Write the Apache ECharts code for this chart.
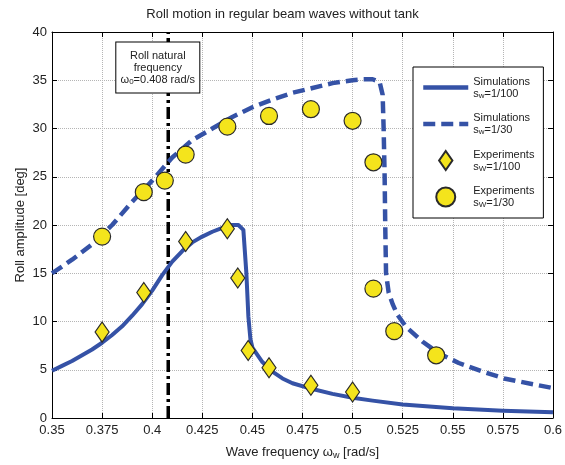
<!DOCTYPE html>
<html>
<head>
<meta charset="utf-8">
<script src="https://cdn.jsdelivr.net/npm/echarts@6/dist/echarts.min.js"></script>
<style>
  html, body { margin: 0; padding: 0; background: #fff; }
  #chart { width: 565px; height: 465px; }
</style>
</head>
<body>
<div id="chart"></div>
<script>
// Simulated roll amplitude, wave steepness 1/100
const simFreq100 = [0.35, 0.355, 0.36, 0.365, 0.37, 0.375, 0.38, 0.385, 0.39, 0.395, 0.40, 0.405, 0.41, 0.415, 0.42, 0.425, 0.43, 0.435, 0.44, 0.443, 0.4455, 0.447, 0.448, 0.449, 0.45, 0.455, 0.46, 0.465, 0.47, 0.48, 0.49, 0.50, 0.51, 0.525, 0.55, 0.575, 0.60];
const simRoll100 = [4.9, 5.4, 5.9, 6.5, 7.1, 7.8, 8.6, 9.5, 10.6, 11.8, 13.2, 14.8, 16.2, 17.3, 18.2, 18.8, 19.3, 19.7, 20.0, 20.0, 19.5, 15.0, 10.5, 8.2, 7.3, 5.8, 4.8, 4.1, 3.6, 3.0, 2.5, 2.1, 1.8, 1.4, 1.0, 0.75, 0.6];

// Simulated roll amplitude, wave steepness 1/30
const simFreq30 = [0.35, 0.36, 0.37, 0.375, 0.38, 0.39, 0.40, 0.41, 0.42, 0.43, 0.44, 0.45, 0.46, 0.47, 0.48, 0.49, 0.50, 0.505, 0.51, 0.5135, 0.515, 0.5155, 0.516, 0.5163, 0.5167, 0.518, 0.52, 0.5224, 0.5266, 0.535, 0.543, 0.553, 0.565, 0.5756, 0.59, 0.60];
const simRoll30 = [15.0, 16.4, 18.0, 19.0, 20.0, 22.4, 24.6, 27.0, 28.8, 30.0, 31.2, 32.2, 33.0, 33.7, 34.2, 34.7, 35.0, 35.1, 35.1, 34.8, 33.5, 30.0, 25.0, 20.0, 15.0, 13.0, 11.8, 10.7, 9.46, 7.9, 6.7, 5.7, 4.8, 4.1, 3.5, 3.1];

// Measured roll amplitude, steepness 1/100 (diamonds)
const expFreq100 = [0.375, 0.3958, 0.4167, 0.4375, 0.4427, 0.4479, 0.4583, 0.4792, 0.5];
const expRoll100 = [8.9, 13.0, 18.3, 19.6, 14.5, 7.0, 5.2, 3.4, 2.7];

// Measured roll amplitude, steepness 1/30 (circles)
const expFreq30 = [0.375, 0.3958, 0.4063, 0.4167, 0.4375, 0.4583, 0.4792, 0.5, 0.5104, 0.5104, 0.5208, 0.5417];
const expRoll30 = [18.8, 23.4, 24.6, 27.3, 30.2, 31.3, 32.0, 30.8, 26.5, 13.4, 9.0, 6.5];

// Roll natural frequency marker
const naturalFreq = 0.408;

// Axis tick labels
const xTickLabels = ['0.35', '0.375', '0.4', '0.425', '0.45', '0.475', '0.5', '0.525', '0.55', '0.575', '0.6'];
const yTickLabels = ['0', '5', '10', '15', '20', '25', '30', '35', '40'];

const FONT = '"Liberation Sans", Arial, Helvetica, sans-serif';
const BLUE = '#3552a6';
const YELLOW = '#f4e41c';

const zip = (xs, ys) => xs.map((x, i) => [x, ys[i]]);

const legendText = {
  sim100: '{t|Simulations}\n{t|s}{s|w}{t|=1/100}',
  sim30: '{t|Simulations}\n{t|s}{s|w}{t|=1/30}',
  exp100: '{t|Experiments}\n{t|s}{s|W}{t|=1/100}',
  exp30: '{t|Experiments}\n{t|s}{s|W}{t|=1/30}'
};

const chart = echarts.init(document.getElementById('chart'), null, { renderer: 'canvas' });

const gridLine = { show: true, lineStyle: { color: '#b5b5b5', width: 1, type: 'dotted' } };
const frameLine = { show: true, onZero: false, lineStyle: { color: '#000', width: 1 } };

chart.setOption({
  animation: false,
  backgroundColor: '#fff',
  textStyle: { fontFamily: FONT },
  title: {
    text: 'Roll motion in regular beam waves without tank',
    left: 'center',
    top: 3,
    textStyle: { fontFamily: FONT, fontSize: 13, fontWeight: 'normal', color: '#222' }
  },
  grid: { left: 52, right: 11, top: 32, bottom: 47, containLabel: false },
  xAxis: [
    {
      type: 'value', min: 0.35, max: 0.6, interval: 0.025,
      axisLine: frameLine,
      axisTick: { show: true, inside: true, length: 5, lineStyle: { color: '#000' } },
      splitLine: gridLine,
      axisLabel: {
        fontFamily: FONT, fontSize: 13, color: '#222', margin: 6,
        formatter: v => xTickLabels[Math.round((v - 0.35) / 0.025)]
      },
      name: 'Wave frequency ω{sub|w} [rad/s]',
      nameLocation: 'middle', nameGap: 27,
      nameTextStyle: {
        fontFamily: FONT, fontSize: 13, color: '#222',
        rich: { sub: { fontFamily: FONT, fontSize: 9, verticalAlign: 'bottom', padding: [6, 0, 0, 0], color: '#222' } }
      }
    },
    {
      type: 'value', min: 0.35, max: 0.6, interval: 0.025, position: 'top',
      axisLine: frameLine,
      axisTick: { show: true, inside: true, length: 5, lineStyle: { color: '#000' } },
      axisLabel: { show: false }, splitLine: { show: false }
    }
  ],
  yAxis: [
    {
      type: 'value', min: 0, max: 40, interval: 5,
      axisLine: frameLine,
      axisTick: { show: true, inside: true, length: 5, lineStyle: { color: '#000' } },
      splitLine: gridLine,
      axisLabel: {
        fontFamily: FONT, fontSize: 13, color: '#222', margin: 5,
        formatter: v => yTickLabels[Math.round(v / 5)]
      },
      name: 'Roll amplitude [deg]',
      nameLocation: 'middle', nameGap: 25, nameMoveOverlap: false,
      nameTextStyle: { fontFamily: FONT, fontSize: 13, color: '#222' }
    },
    {
      type: 'value', min: 0, max: 40, interval: 5, position: 'right',
      axisLine: frameLine,
      axisTick: { show: true, inside: true, length: 5, lineStyle: { color: '#000' } },
      axisLabel: { show: false }, splitLine: { show: false }
    }
  ],
  legend: {
    orient: 'vertical',
    left: 413, top: 67,
    padding: [9, 9, 9, 8],
    itemGap: 13,
    itemWidth: 45,
    itemHeight: 19,
    backgroundColor: '#fff',
    borderColor: '#000',
    borderWidth: 1,
    borderRadius: 0,
    selectedMode: false,
    data: [
      { name: 'sim100', itemStyle: { opacity: 0 }, lineStyle: { width: 4.5 } },
      { name: 'sim30', itemStyle: { opacity: 0 }, lineStyle: { width: 4.5, type: [12, 6] } },
      { name: 'exp100', icon: 'path://M0,-10L7,0L0,10L-7,0Z' },
      { name: 'exp30', icon: 'circle' }
    ],
    formatter: name => legendText[name],
    textStyle: {
      fontFamily: FONT, color: '#222',
      rich: {
        t: { fontFamily: FONT, fontSize: 11, lineHeight: 12, color: '#222' },
        s: { fontFamily: FONT, fontSize: 8, lineHeight: 12, verticalAlign: 'bottom', padding: [4, 0, 0, 0], color: '#222' }
      }
    }
  },
  series: [
    {
      name: 'natural', type: 'line', data: [[naturalFreq, 0], [naturalFreq, 40]],
      symbol: 'none', silent: true, z: 1,
      lineStyle: { color: '#000', width: 3.5, type: [12, 4, 3, 4], cap: 'butt' }
    },
    {
      name: 'sim100', type: 'line', data: zip(simFreq100, simRoll100),
      symbol: 'none', z: 2,
      lineStyle: { color: BLUE, width: 4, join: 'round' }, itemStyle: { color: BLUE }
    },
    {
      name: 'sim30', type: 'line', data: zip(simFreq30, simRoll30),
      symbol: 'none', z: 2,
      lineStyle: { color: BLUE, width: 4.5, type: [12, 6], cap: 'butt' }, itemStyle: { color: BLUE }
    },
    {
      name: 'exp100', type: 'scatter', data: zip(expFreq100, expRoll100),
      symbol: 'diamond', symbolSize: [14, 20], z: 3,
      itemStyle: { color: YELLOW, borderColor: '#2a2a2a', borderWidth: 1.2, opacity: 1 }
    },
    {
      name: 'exp30', type: 'scatter', data: zip(expFreq30, expRoll30),
      symbol: 'circle', symbolSize: 17, z: 3,
      itemStyle: { color: YELLOW, borderColor: '#2a2a2a', borderWidth: 1.2, opacity: 1 }
    }
  ]
});

// Annotation box for the roll natural frequency, anchored in data coordinates
const boxAnchor = chart.convertToPixel({ gridIndex: 0 }, [0.4028, 38.9]);
chart.setOption({
  graphic: [{
    type: 'text',
    x: boxAnchor[0],
    y: boxAnchor[1],
    z: 10,
    style: {
      text: '{t|Roll natural}\n{t|frequency}\n{t|ω}{s|0}{t|=0.408 rad/s}',
      align: 'center',
      verticalAlign: 'top',
      fill: '#222',
      backgroundColor: '#fff',
      borderColor: '#000',
      borderWidth: 1,
      padding: [7, 4, 7, 4],
      width: 75,
      rich: {
        t: { fontFamily: FONT, fontSize: 11, lineHeight: 12, fill: '#222' },
        s: { fontFamily: FONT, fontSize: 8, lineHeight: 12, verticalAlign: 'bottom', padding: [4, 0, 0, 0], fill: '#222' }
      }
    }
  }]
});
</script>
</body>
</html>
